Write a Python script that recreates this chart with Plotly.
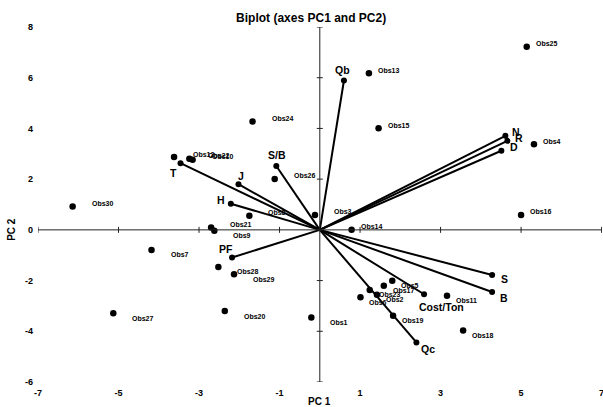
import numpy as np
import plotly.graph_objects as go

# ---------------- data ----------------
obs_labels = [f"Obs{i}" for i in range(1, 31)]
obs_pc1 = [-0.21, 1.42, -0.12, 5.32, 1.80, 1.01, -4.18, -1.75, -2.62, -3.16,
           3.16, -3.62, 1.22, 0.79, 1.46, 5.00, 1.59, 3.56, 1.82, -2.36,
           -2.70, -3.24, 1.24, -1.67, 5.14, -1.12, -5.13, -2.52, -2.13, -6.14]
obs_pc2 = [-3.46, -2.56, 0.59, 3.38, -2.01, -2.66, -0.79, 0.56, -0.04, 2.76,
           -2.60, 2.87, 6.18, 0.00, 4.01, 0.59, -2.20, -3.97, -3.39, -3.20,
           0.09, 2.80, -2.37, 4.27, 7.22, 2.01, -3.29, -1.46, -1.75, 0.92]

var_labels = ["Qb", "N", "R", "D", "S/B", "J", "T", "H", "PF", "S", "B", "Cost/Ton", "Qc"]
var_pc1 = [0.60, 4.61, 4.66, 4.51, -1.08, -2.02, -3.46, -2.21, -2.18, 4.28, 4.28, 2.59, 2.40]
var_pc2 = [5.89, 3.71, 3.51, 3.12, 2.52, 1.80, 2.63, 1.03, -1.09, -1.78, -2.45, -2.54, -4.44]

x_ticks = [-7, -5, -3, -1, 1, 3, 5, 7]
y_ticks = [-6, -4, -2, 0, 2, 4, 6, 8]

# ---------------- style ----------------
FONT = "Liberation Sans, Arial, sans-serif"
# label offsets (pixels, right / down) for variable labels
var_label_offset = {
    "Qb": (-1, -11), "N": (11, -4), "R": (12, -3), "D": (13, -4),
    "S/B": (1, -11), "J": (3, -8), "T": (-7, 10), "H": (-10, -4),
    "PF": (-6, -9), "S": (12, 4), "B": (12, 6), "Cost/Ton": (17, 13), "Qc": (12, 7),
}

fig = go.Figure()

# variable vectors
lx, ly = [], []
for vx, vy in zip(var_pc1, var_pc2):
    lx += [0, vx, None]
    ly += [0, vy, None]
fig.add_trace(go.Scatter(x=lx, y=ly, mode="lines",
                         line=dict(color="black", width=2), hoverinfo="skip",
                         showlegend=False))
fig.add_trace(go.Scatter(x=var_pc1, y=var_pc2, mode="markers",
                         marker=dict(color="black", size=6),
                         text=var_labels, showlegend=False, cliponaxis=False))

# observations
fig.add_trace(go.Scatter(x=obs_pc1, y=obs_pc2, mode="markers",
                         marker=dict(color="black", size=6.5),
                         text=obs_labels, showlegend=False, cliponaxis=False))

annotations = []
for lab, x, y in zip(obs_labels, obs_pc1, obs_pc2):
    annotations.append(dict(
        x=x, y=y, xref="x", yref="y", text=lab, showarrow=False,
        xanchor="left", yanchor="middle",
        xshift=(17 if x < 0 else 7), yshift=(3 if y >= 0 else -5),
        font=dict(family=FONT, size=7, color="black", weight="bold")))

for lab, x, y in zip(var_labels, var_pc1, var_pc2):
    dx, dy = var_label_offset[lab]
    annotations.append(dict(
        x=x, y=y, xref="x", yref="y", text=lab, showarrow=False,
        xanchor="center", yanchor="middle", xshift=dx, yshift=-dy,
        font=dict(family=FONT, size=10.5, color="black", weight="bold")))

# axis titles
annotations.append(dict(x=0, y=0, xref="x", yref="paper", text="PC 1",
                        showarrow=False, xanchor="center", yanchor="middle",
                        yshift=-19, font=dict(family=FONT, size=10, color="black", weight="bold")))
annotations.append(dict(x=0, y=0, xref="paper", yref="y", text="PC 2",
                        showarrow=False, xanchor="center", yanchor="middle",
                        xshift=-26, textangle=-90,
                        font=dict(family=FONT, size=10, color="black", weight="bold")))

# axes crossing at the origin, with cross tick marks
shapes = [
    dict(type="line", xref="x", yref="y", x0=x_ticks[0], x1=x_ticks[-1], y0=0, y1=0,
         line=dict(color="#222", width=1)),
    dict(type="line", xref="x", yref="y", x0=0, x1=0, y0=y_ticks[0], y1=y_ticks[-1],
         line=dict(color="#222", width=1)),
]
for t in x_ticks:
    shapes.append(dict(type="line", xref="x", yref="y", x0=t, x1=t,
                       ysizemode="pixel", yanchor=0, y0=-3, y1=3,
                       line=dict(color="#222", width=1)))
for t in y_ticks:
    shapes.append(dict(type="line", xref="x", yref="y", y0=t, y1=t,
                       xsizemode="pixel", xanchor=0, x0=-3, x1=3,
                       line=dict(color="#222", width=1)))

fig.update_layout(
    width=603, height=407,
    margin=dict(l=38, r=1, t=27, b=25, autoexpand=False),
    paper_bgcolor="white", plot_bgcolor="white",
    title=dict(text="<b>Biplot (axes PC1 and PC2)</b>", x=0.516, xanchor="center",
               y=1 - 18 / 407, yanchor="middle", yref="container",
               font=dict(family=FONT, size=12, color="black")),
    xaxis=dict(range=[-7, 7.01], tickvals=x_ticks, ticktext=[str(t) for t in x_ticks],
               showgrid=False, zeroline=False, showline=False, ticks="",
               ticklabelstandoff=4, automargin=False, ticklabeloverflow="allow",
               tickfont=dict(family=FONT, size=9, color="black", weight="bold")),
    yaxis=dict(range=[-6, 8], tickvals=y_ticks, ticktext=[str(t) for t in y_ticks],
               showgrid=False, zeroline=False, showline=False, ticks="",
               ticklabelstandoff=4, automargin=False, ticklabeloverflow="allow",
               tickfont=dict(family=FONT, size=9, color="black", weight="bold")),
    annotations=annotations, shapes=shapes,
    showlegend=False,
)

fig.write_html("out.html", config={"displayModeBar": False},
               post_script="document.body.style.margin='0';document.body.style.overflow='hidden';")
